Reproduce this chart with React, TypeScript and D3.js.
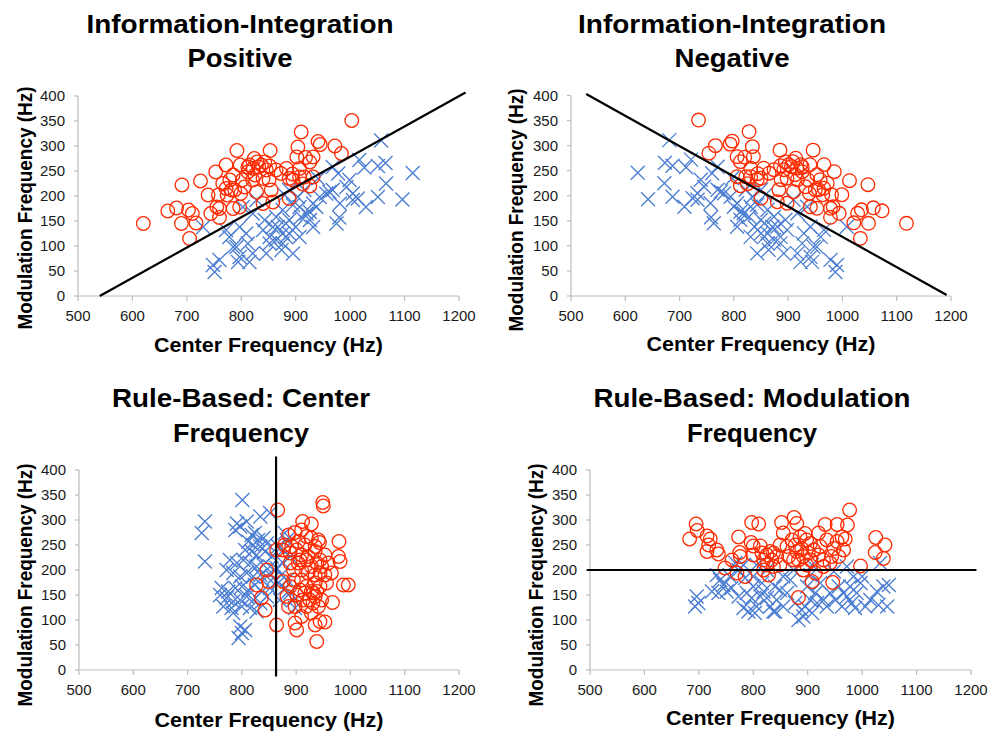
import React from "react";
import * as d3 from "d3";

type Pt = [number, number];

const xTicks = [500, 600, 700, 800, 900, 1000, 1100, 1200];
const yTicks = [0, 50, 100, 150, 200, 250, 300, 350, 400];
const xLabel = "Center Frequency (Hz)";
const yLabel = "Modulation Frequency (Hz)";

const titles: string[][] = [
  ["Information-Integration", "Positive"],
  ["Information-Integration", "Negative"],
  ["Rule-Based: Center", "Frequency"],
  ["Rule-Based: Modulation", "Frequency"],
];

// Panel 1: Information-Integration Positive
const p1Circles: Pt[] = [
  [620,145],[1003,351],[910,328],[941,309],[945,303],[972,300],[984,285],[904,298],[792,291],[853,291],
  [691,222],[725,230],[739,202],[753,248],[665,170],[681,176],[703,172],[710,165],[690,145],[717,146],
  [705,115],[744,165],[760,175],[760,157],[772,262],[766,225],[772,215],[774,202],[782,212],[785,242],
  [785,175],[797,178],[798,262],[802,232],[806,218],[799,205],[812,248],[815,262],[822,255],[825,242],
  [829,268],[832,258],[837,262],[843,268],[846,252],[852,260],[828,208],[840,235],[851,232],[855,212],
  [858,188],[840,185],[864,252],[873,245],[883,255],[888,235],[894,244],[907,238],[888,195],[902,278],
  [907,255],[918,277],[926,268],[932,278],[916,238],[932,238],[913,224],[926,220],[895,232],[824,275],
  [812,258],[821,232],[779,232],[758,202],[755,178],[788,212],
];
const p1Crosses: Pt[] = [
  [1057,311],[1065,266],[1051,260],[1017,272],[1026,257],[1115,246],[1066,225],[1051,198],[1096,193],[1014,195],
  [1005,205],[993,218],[999,232],[968,258],[978,245],[968,212],[956,205],[962,208],[1005,192],[981,185],
  [975,145],[980,157],[944,198],[938,178],[932,185],[926,168],[926,152],[932,138],[920,165],[916,212],
  [910,158],[907,178],[904,198],[895,182],[888,212],[880,202],[888,152],[900,138],[907,118],[888,125],
  [882,145],[876,125],[867,138],[864,158],[858,138],[852,118],[852,105],[864,112],[876,105],[882,118],
  [874,92],[846,85],[843,152],[840,132],[828,192],[821,165],[803,178],[809,125],[797,138],[812,105],
  [791,98],[797,78],[785,98],[794,68],[772,132],[778,118],[730,138],[815,68],[821,85],[748,62],
  [760,72],[751,48],[895,85],[876,172],[1029,178],[941,235],
];
const p1Line: Pt[] = [[540, 0], [1212, 407]];

// Panel 2: Information-Integration Negative
const p2Circles: Pt[] = [
  [1118,145],[735,351],[828,328],[797,309],[793,303],[766,300],[754,285],[834,298],[946,291],[885,291],
  [1047,222],[1013,230],[999,202],[985,248],[1073,170],[1057,176],[1035,172],[1028,165],[1048,145],[1021,146],
  [1033,115],[994,165],[978,175],[978,157],[966,262],[972,225],[966,215],[964,202],[956,212],[953,242],
  [953,175],[941,178],[940,262],[936,232],[932,218],[939,205],[926,248],[923,262],[916,255],[913,242],
  [909,268],[906,258],[901,262],[895,268],[892,252],[886,260],[910,208],[898,235],[887,232],[883,212],
  [880,188],[898,185],[874,252],[865,245],[855,255],[850,235],[844,244],[831,238],[850,195],[836,278],
  [831,255],[820,277],[812,268],[806,278],[822,238],[806,238],[825,224],[812,220],[843,232],[914,275],
  [926,258],[917,232],[959,232],[980,202],[983,178],[950,212],
];
const p2Crosses: Pt[] = [
  [681,311],[673,266],[687,260],[721,272],[712,257],[623,246],[672,225],[687,198],[642,193],[724,195],
  [733,205],[745,218],[739,232],[770,258],[760,245],[770,212],[782,205],[776,208],[733,192],[757,185],
  [763,145],[758,157],[794,198],[800,178],[806,185],[812,168],[812,152],[806,138],[818,165],[822,212],
  [828,158],[831,178],[834,198],[843,182],[850,212],[858,202],[850,152],[838,138],[831,118],[850,125],
  [856,145],[862,125],[871,138],[874,158],[880,138],[886,118],[886,105],[874,112],[862,105],[856,118],
  [864,92],[892,85],[895,152],[898,132],[910,192],[917,165],[935,178],[929,125],[941,138],[926,105],
  [947,98],[941,78],[953,98],[944,68],[966,132],[960,118],[1008,138],[923,68],[917,85],[990,62],
  [978,72],[987,48],[843,85],[862,172],[709,178],[797,235],
];
const p2Line: Pt[] = [[528, 403], [1192, 2]];

// Panel 3: Rule-Based Center Frequency
const p3Circles: Pt[] = [
  [866,320],[949,335],[950,328],[912,297],[928,292],[886,270],[898,275],[910,280],[919,267],[928,264],
  [941,260],[904,257],[892,247],[879,250],[916,250],[935,247],[943,255],[979,257],[864,240],[876,240],
  [889,234],[901,240],[910,230],[922,227],[935,237],[944,220],[953,230],[907,220],[978,227],[889,214],
  [904,214],[919,220],[928,207],[938,214],[947,207],[959,214],[981,217],[910,200],[922,194],[935,190],
  [895,200],[944,194],[953,190],[965,194],[895,180],[910,180],[919,167],[935,174],[944,167],[928,157],
  [938,157],[956,174],[987,170],[996,170],[876,177],[889,167],[907,160],[916,154],[932,154],[827,170],
  [883,147],[901,150],[913,140],[925,140],[935,147],[947,140],[941,127],[919,127],[898,127],[886,127],
  [967,135],[931,134],[910,107],[928,114],[944,97],[935,90],[901,80],[898,94],[864,90],[938,57],
  [953,96],[846,200],[849,177],[836,144],[843,120],
];
const p3Crosses: Pt[] = [
  [801,340],[732,297],[726,274],[732,217],[791,293],[797,287],[788,280],[809,297],[834,307],[852,314],
  [818,270],[824,274],[830,260],[812,257],[821,250],[834,247],[846,253],[840,264],[806,240],[818,237],
  [827,230],[843,237],[855,227],[867,247],[876,240],[883,260],[879,274],[778,220],[791,214],[803,220],
  [815,214],[827,207],[840,210],[852,207],[864,204],[876,214],[889,227],[772,200],[784,194],[797,187],
  [809,194],[821,187],[834,190],[846,187],[858,184],[873,190],[883,180],[763,164],[775,157],[788,164],
  [800,167],[812,160],[824,170],[837,157],[852,164],[867,174],[879,164],[760,150],[772,144],[784,137],
  [797,140],[809,147],[821,140],[834,134],[846,147],[870,140],[889,154],[895,140],[766,127],[781,124],
  [800,127],[815,124],[827,117],[784,114],[797,87],[800,74],[806,80],[794,64],[898,124],
];
const p3Line: Pt[] = [[863, -13], [863, 427]];

// Panel 4: Rule-Based Modulation Frequency
const p4Circles: Pt[] = [
  [977,320],[695,292],[697,279],[683,262],[715,268],[721,262],[718,250],[715,237],[733,240],[736,232],
  [748,204],[761,220],[773,266],[775,235],[776,227],[785,187],[770,194],[797,295],[810,292],[796,255],
  [800,248],[800,230],[813,248],[816,234],[819,220],[825,230],[831,237],[837,234],[843,227],[834,220],
  [825,210],[819,200],[828,190],[837,207],[849,210],[852,295],[875,305],[880,293],[871,260],[877,250],
  [886,266],[895,273],[898,260],[905,253],[889,243],[880,237],[874,220],[883,220],[892,227],[901,234],
  [911,240],[920,230],[929,220],[920,274],[932,291],[954,291],[973,290],[963,266],[954,257],[948,243],
  [966,240],[944,227],[957,227],[941,214],[929,207],[914,194],[908,177],[946,175],[997,208],[1025,265],
  [1024,235],[1042,250],[1039,223],[898,210],[892,200],[883,145],[849,250],[855,274],[862,247],[865,227],
  [905,220],[923,247],[935,260],[969,262],
];
const p4Crosses: Pt[] = [
  [696,147],[693,127],[699,134],[733,190],[739,180],[745,170],[724,157],[736,154],[751,157],[760,164],
  [767,214],[773,200],[782,210],[785,184],[788,154],[782,124],[791,117],[797,144],[800,167],[803,114],
  [806,127],[813,147],[816,174],[819,157],[825,144],[831,127],[837,117],[840,167],[843,140],[849,160],
  [855,187],[862,154],[868,180],[877,134],[883,100],[889,120],[892,107],[895,127],[905,140],[908,114],
  [914,154],[917,134],[923,174],[929,140],[935,127],[941,154],[951,140],[957,167],[963,127],[966,154],
  [972,147],[978,167],[981,134],[987,124],[990,154],[997,174],[1000,187],[1015,140],[1027,157],[1030,130],
  [1033,214],[1039,167],[1046,127],[1049,170],[1006,127],[948,197],[972,207],[984,187],[908,210],[899,167],
  [874,200],[825,200],[806,210],[800,187],[757,187],[773,147],[840,117],[905,190],[855,127],
];
const p4Line: Pt[] = [[494, 200], [1210, 200]];

const seriesData = [
  { circles: p1Circles, crosses: p1Crosses, line: p1Line },
  { circles: p2Circles, crosses: p2Crosses, line: p2Line },
  { circles: p3Circles, crosses: p3Crosses, line: p3Line },
  { circles: p4Circles, crosses: p4Crosses, line: p4Line },
];

// layout (pixels)
const layouts = [
  { x0: 78, x1: 459, yb: 296, yt: 96, tx: 240, ty: [33, 66.5], tLen: [307, 105], ylx: 32, ylc: 208, xly: 352 },
  { x0: 571, x1: 951, yb: 296, yt: 95.5, tx: 732, ty: [33, 66.5], tLen: [308, 115], ylx: 523, ylc: 210, xly: 351 },
  { x0: 79, x1: 459, yb: 670, yt: 470, tx: 241, ty: [407, 442], tLen: [258, 136], ylx: 32, ylc: 585, xly: 727 },
  { x0: 590, x1: 971, yb: 670, yt: 470, tx: 752, ty: [407, 442], tLen: [317, 130], ylx: 543, ylc: 585, xly: 725 },
];

const RED = "#ff2a00";
const BLUE = "#4a7dd2";
const AXIS = "#bdbdbd";
const FONT = "'Liberation Sans', Arial, Helvetica, sans-serif";

function Panel({ idx }: { idx: number }) {
  const L = layouts[idx];
  const D = seriesData[idx];
  const x = d3.scaleLinear().domain([500, 1200]).range([L.x0, L.x1]);
  const y = d3.scaleLinear().domain([0, 400]).range([L.yb, L.yt]);
  const line = d3.line<Pt>().x((d) => x(d[0])).y((d) => y(d[1]));
  const s = 7;
  const crossPath = `M${-s},${-s}L${s},${s}M${-s},${s}L${s},${-s}`;
  const cx = (L.x0 + L.x1) / 2;
  return (
    <g>
      {titles[idx].map((t, i) => (
        <text key={i} x={L.tx} y={L.ty[i]} textAnchor="middle" fontFamily={FONT} fontWeight="bold"
          fontSize={25.5} textLength={L.tLen[i]} lengthAdjust="spacingAndGlyphs" fill="#000">{t}</text>
      ))}
      {/* axes */}
      <line x1={x(500)} x2={x(1200)} y1={y(0)} y2={y(0)} stroke={AXIS} strokeWidth={1.2} />
      <line x1={x(500)} x2={x(500)} y1={y(0)} y2={y(400)} stroke={AXIS} strokeWidth={1.2} />
      {xTicks.map((t) => (
        <g key={"xt" + t}>
          <line x1={x(t)} x2={x(t)} y1={y(0)} y2={y(0) + 5} stroke={AXIS} strokeWidth={1.2} />
          <text x={x(t)} y={y(0) + 24.5} textAnchor="middle" fontFamily={FONT} fontSize={15} fill="#1a1a1a">{t}</text>
        </g>
      ))}
      {yTicks.map((t) => (
        <g key={"yt" + t}>
          <line x1={x(500) - 4} x2={x(500)} y1={y(t)} y2={y(t)} stroke={AXIS} strokeWidth={1.2} />
          <text x={x(500) - 13} y={y(t) + 5} textAnchor="end" fontFamily={FONT} fontSize={15} fill="#1a1a1a">{t}</text>
        </g>
      ))}
      <text x={cx} y={L.xly} textAnchor="middle" fontFamily={FONT} fontWeight="bold" fontSize={20}
        textLength={229} lengthAdjust="spacingAndGlyphs" fill="#000">{xLabel}</text>
      <text transform={`translate(${L.ylx},${L.ylc}) rotate(-90)`} textAnchor="middle" fontFamily={FONT}
        fontWeight="bold" fontSize={20} textLength={243} lengthAdjust="spacingAndGlyphs" fill="#000">{yLabel}</text>
      {/* data */}
      {D.crosses.map((d, i) => (
        <path key={"c" + i} d={crossPath} transform={`translate(${x(d[0])},${y(d[1])})`} fill="none"
          stroke={BLUE} strokeWidth={1.3} />
      ))}
      {D.circles.map((d, i) => (
        <circle key={"o" + i} cx={x(d[0])} cy={y(d[1])} r={6.8} fill="none" stroke={RED} strokeWidth={1.3} />
      ))}
      <path d={line(D.line) || ""} stroke="#000" strokeWidth={2.2} fill="none" />
    </g>
  );
}

export default function App() {
  return (
    <svg width={989} height={733} style={{ position: "absolute", left: 0, top: 0, background: "#fff" }}>
      <rect width={989} height={733} fill="#fff" />
      {[0, 1, 2, 3].map((i) => (
        <Panel key={i} idx={i} />
      ))}
    </svg>
  );
}
